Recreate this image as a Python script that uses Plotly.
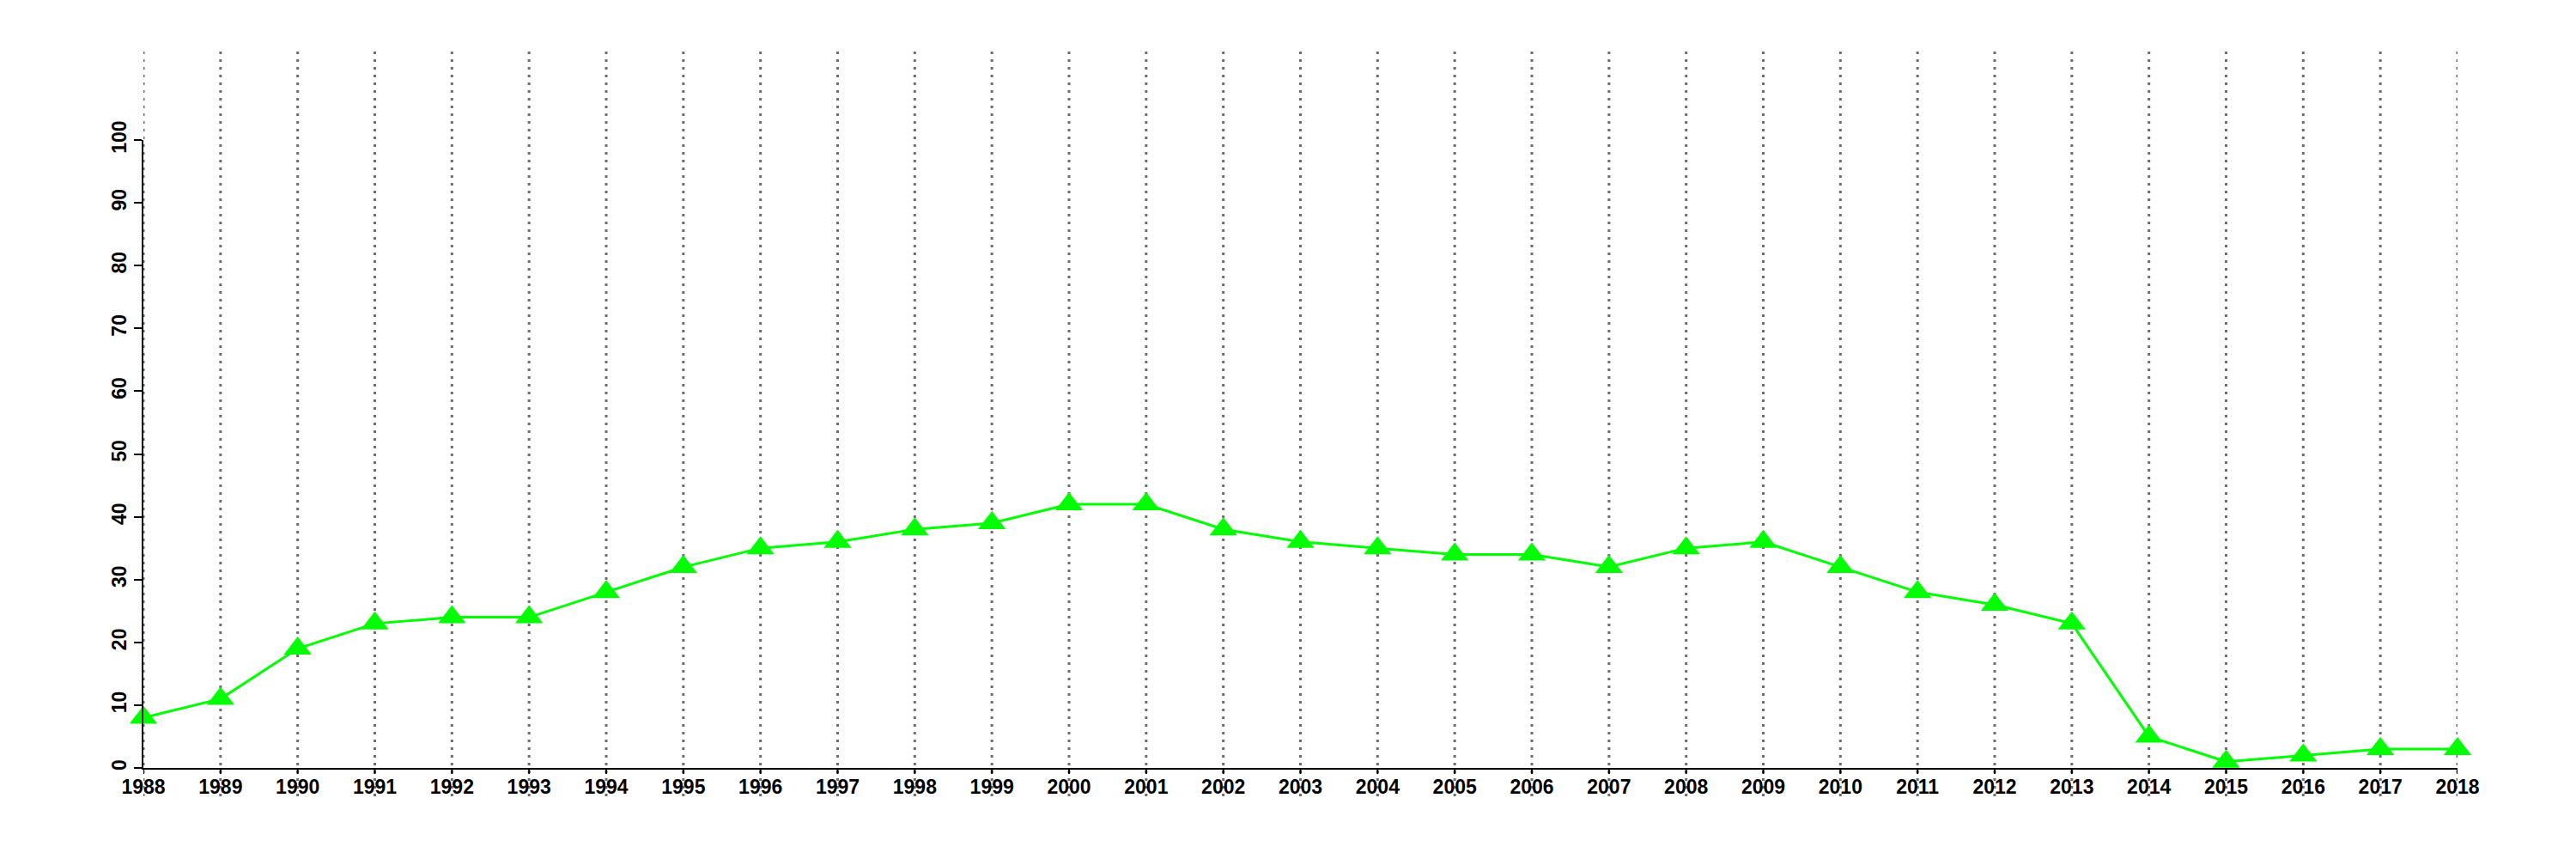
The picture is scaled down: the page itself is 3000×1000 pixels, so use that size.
import plotly.graph_objects as go

years = list(range(1988, 2019))
values = [8, 11, 19, 23, 24, 24, 28, 32, 35, 36, 38, 39, 42, 42, 38, 36, 35, 34, 34, 32,
          35, 36, 32, 28, 26, 23, 5, 1, 2, 3, 3]
y_ticks = [0, 10, 20, 30, 40, 50, 60, 70, 80, 90, 100]

fig = go.Figure()
fig.add_trace(go.Scatter(
    x=years, y=values, mode="lines+markers",
    line=dict(color="#00FF00", width=3),
    marker=dict(symbol="triangle-up", size=28, color="#00FF00"),
    cliponaxis=False, showlegend=False,
))

plot_h = 1000 - 155 - 114
for yr in years:
    fig.add_shape(type="line", xref="x", yref="paper", x0=yr, x1=yr, y0=-0.045, y1=1.141,
                  line=dict(color="#6e6e6e", width=3, dash="3px,6px"), layer="below")
    # x tick marks
    fig.add_shape(type="line", xref="x", yref="paper", x0=yr, x1=yr, y0=0, y1=-7 / plot_h,
                  line=dict(color="black", width=2), layer="above")

tf = dict(family="Liberation Sans, Arial, sans-serif", size=23, color="black", weight="bold")
fig.update_layout(
    width=3000, height=1000,
    margin=dict(l=159, r=146, t=155, b=114, autoexpand=False),
    plot_bgcolor="white", paper_bgcolor="white",
    font=dict(family="Liberation Sans, Arial, sans-serif", size=23, color="black"),
    xaxis=dict(range=[1988, 2018], tickvals=years, ticktext=[str(y) for y in years],
               showgrid=False, zeroline=False, showline=True, linecolor="black", linewidth=2,
               ticks="", tickfont=tf, tickangle=0, automargin=False),
    yaxis=dict(range=[0, 100], tickvals=y_ticks, ticktext=[str(v) for v in y_ticks],
               showgrid=False, zeroline=False, showline=True, linecolor="black", linewidth=2,
               ticks="outside", ticklen=9, tickwidth=2, tickcolor="black",
               tickfont=tf, tickangle=-90, automargin=False),
)

fig.write_html("out.html")
